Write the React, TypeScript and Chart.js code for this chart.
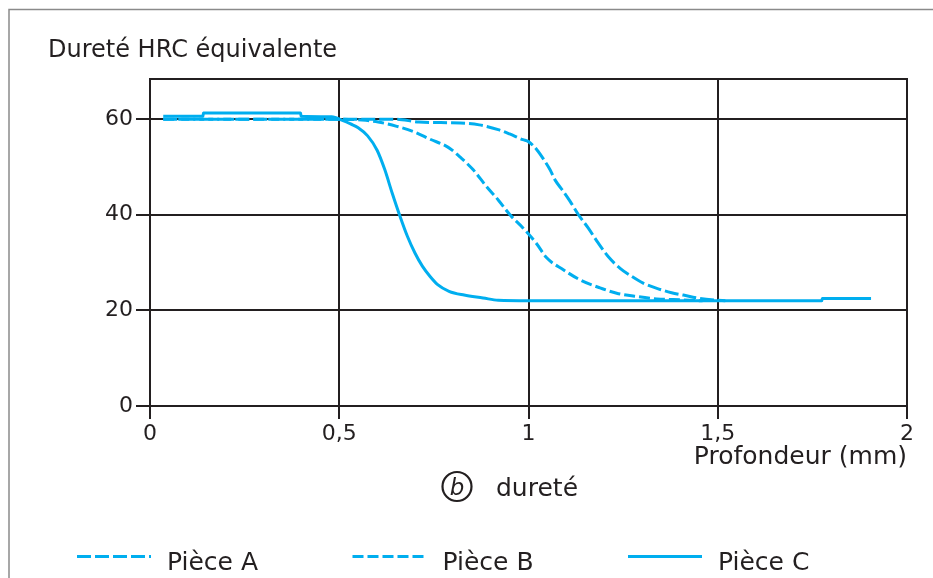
import React, { useEffect, useRef } from 'react';
import { Chart, registerables } from 'chart.js';

Chart.register(...registerables);

// ---- Data ----
const seriesLabels = ['Pièce A', 'Pièce B', 'Pièce C'];

// Pièce A (dashed, deepest curve)
const depthA = [0.035, 0.65, 0.71, 0.82, 0.87, 0.92, 0.95, 0.985, 1.0, 1.022, 1.044, 1.057, 1.07, 1.092, 1.11, 1.132, 1.158, 1.184, 1.211, 1.242, 1.273, 1.303, 1.339, 1.378, 1.409, 1.453, 1.52];
const hardA = [60, 60, 59.4, 59.2, 58.8, 57.8, 56.9, 55.7, 55.3, 53.6, 51.1, 49.4, 47.3, 44.9, 42.8, 40.0, 37.2, 34.1, 31.2, 28.8, 27.1, 25.7, 24.6, 23.7, 23.2, 22.5, 22.0];

// Pièce B (dashed, middle curve)
const depthB = [0.035, 0.5, 0.56, 0.603, 0.652, 0.696, 0.74, 0.788, 0.823, 0.854, 0.89, 0.92, 0.951, 0.986, 1.02, 1.048, 1.092, 1.136, 1.189, 1.233, 1.286, 1.339, 1.409, 1.46];
const hardB = [60, 60, 59.8, 59.4, 58.5, 57.4, 55.8, 54.1, 51.8, 49.4, 45.8, 43.1, 40.0, 37.2, 34.1, 31.0, 28.5, 26.4, 24.7, 23.6, 22.9, 22.4, 22.2, 22.0];

// Pièce C (solid, shallowest curve)
const depthC = [0.035, 0.14, 0.141, 0.398, 0.399, 0.48, 0.51, 0.53, 0.55, 0.575, 0.6, 0.62, 0.64, 0.66, 0.68, 0.7, 0.72, 0.74, 0.76, 0.79, 0.83, 0.88, 0.92, 1.0, 1.775, 1.776, 1.905];
const hardC = [60.6, 60.6, 61.3, 61.3, 60.6, 60.5, 59.7, 59.0, 58.2, 56.5, 53.5, 49.5, 44.5, 39.8, 35.5, 32.0, 29.2, 27.1, 25.4, 24.0, 23.2, 22.6, 22.1, 22.0, 22.0, 22.5, 22.5];

const xTicks = [0, 0.5, 1, 1.5, 2];
const yTicks = [0, 20, 40, 60];
const yTitle = 'Dureté HRC équivalente';
const xTitle = 'Profondeur (mm)';
const captionLetter = 'b';
const captionText = 'dureté';

// ---- Styles ----
const FONT = '"DejaVu Sans", "Liberation Sans", sans-serif';
const INK = '#231f20';
const BLUE = '#00aeef';
const W = 933;
const H = 578;
const X_AXIS_H = 66;
const Y_AXIS_W = 150;

const decor = {
  id: 'decor',
  beforeDraw(chart: any) {
    const ctx = chart.ctx;
    ctx.save();
    ctx.fillStyle = '#ffffff';
    ctx.fillRect(0, 0, chart.width, chart.height);
    ctx.strokeStyle = '#8a8a8a';
    ctx.lineWidth = 1.5;
    ctx.beginPath();
    ctx.moveTo(9, chart.height);
    ctx.lineTo(9, 9.5);
    ctx.lineTo(chart.width, 9.5);
    ctx.stroke();
    ctx.restore();
  },
  beforeDatasetsDraw(chart: any) {
    const { ctx, chartArea } = chart;
    ctx.save();
    ctx.strokeStyle = INK;
    ctx.lineWidth = 2;
    ctx.beginPath();
    ctx.moveTo(chartArea.left - 1, chartArea.top);
    ctx.lineTo(chartArea.right + 1, chartArea.top);
    ctx.stroke();
    ctx.restore();
  },
  afterDraw(chart: any) {
    const ctx = chart.ctx;
    ctx.save();
    ctx.fillStyle = INK;
    ctx.textAlign = 'left';
    ctx.textBaseline = 'alphabetic';
    ctx.font = `24px ${FONT}`;
    ctx.fillText(yTitle, 48, 57);

    // caption (b) dureté
    ctx.strokeStyle = INK;
    ctx.lineWidth = 2.2;
    ctx.beginPath();
    ctx.arc(457, 486.5, 14.5, 0, Math.PI * 2);
    ctx.stroke();
    ctx.textAlign = 'center';
    ctx.font = `italic 23px ${FONT}`;
    ctx.fillText(captionLetter, 457, 495);
    ctx.textAlign = 'left';
    ctx.font = `25px ${FONT}`;
    ctx.fillText(captionText, 496, 496);

    // legend
    chart.data.datasets.forEach((ds: any, i: number) => {
      const x0 = 77 + i * 275.5;
      const y = 556.5;
      ctx.strokeStyle = ds.borderColor;
      ctx.lineWidth = 3;
      ctx.setLineDash(ds.borderDash || []);
      ctx.beginPath();
      ctx.moveTo(x0, y);
      ctx.lineTo(x0 + 74, y);
      ctx.stroke();
      ctx.setLineDash([]);
      ctx.fillStyle = INK;
      ctx.font = `25px ${FONT}`;
      ctx.fillText(ds.label, x0 + 90, 570);
    });
    ctx.restore();
  },
};

function pts(xs: number[], ys: number[]) {
  return xs.map((x, i) => ({ x, y: ys[i] }));
}

export default function App() {
  const ref = useRef<HTMLCanvasElement>(null);
  useEffect(() => {
    const series = [
      { data: pts(depthA, hardA), dash: [14, 4] },
      { data: pts(depthB, hardB), dash: [11, 4] },
      { data: pts(depthC, hardC), dash: [] as number[] },
    ];
    const chart = new Chart(ref.current as HTMLCanvasElement, {
      type: 'line',
      data: {
        datasets: series.map((s, i) => ({
          label: seriesLabels[i],
          data: s.data,
          borderColor: BLUE,
          backgroundColor: BLUE,
          borderWidth: 3,
          borderDash: s.dash,
          pointRadius: 0,
          fill: false,
          cubicInterpolationMode: 'monotone',
        })),
      },
      options: {
        responsive: false,
        animation: false,
        devicePixelRatio: 1,
        layout: { padding: { left: 0, top: 79, right: 26, bottom: H - 406 - X_AXIS_H } },
        plugins: { legend: { display: false }, tooltip: { enabled: false }, title: { display: false } },
        scales: {
          x: {
            type: 'linear',
            min: 0,
            max: 2,
            afterBuildTicks: (axis: any) => { axis.ticks = xTicks.map((v) => ({ value: v })); },
            afterFit: (s: any) => { s.height = X_AXIS_H; },
            ticks: {
              font: { family: FONT, size: 22 },
              color: INK,
              padding: 2,
              maxRotation: 0,
              autoSkip: false,
              callback: (v: any) => String(v).replace('.', ','),
            },
            grid: { color: INK, lineWidth: 2, tickLength: 13, drawTicks: true },
            border: { display: true, color: INK, width: 2 },
            title: { display: true, text: xTitle, align: 'end', color: INK, font: { family: FONT, size: 25 }, padding: 0 },
          },
          y: {
            type: 'linear',
            min: 0,
            max: 68.4,
            afterBuildTicks: (axis: any) => { axis.ticks = yTicks.map((v) => ({ value: v })); },
            afterFit: (s: any) => { s.width = Y_AXIS_W; },
            ticks: { font: { family: FONT, size: 22 }, color: INK, padding: 3 },
            grid: { color: INK, lineWidth: 2, tickLength: 14, drawTicks: true },
            border: { display: true, color: INK, width: 2 },
          },
        },
      } as any,
      plugins: [decor],
    } as any);
    return () => chart.destroy();
  }, []);
  return (
    <div style={{ position: 'absolute', left: 0, top: 0, width: W, height: H, background: '#fff' }}>
      <canvas ref={ref} width={W} height={H} style={{ display: 'block', width: W, height: H }} />
    </div>
  );
}
